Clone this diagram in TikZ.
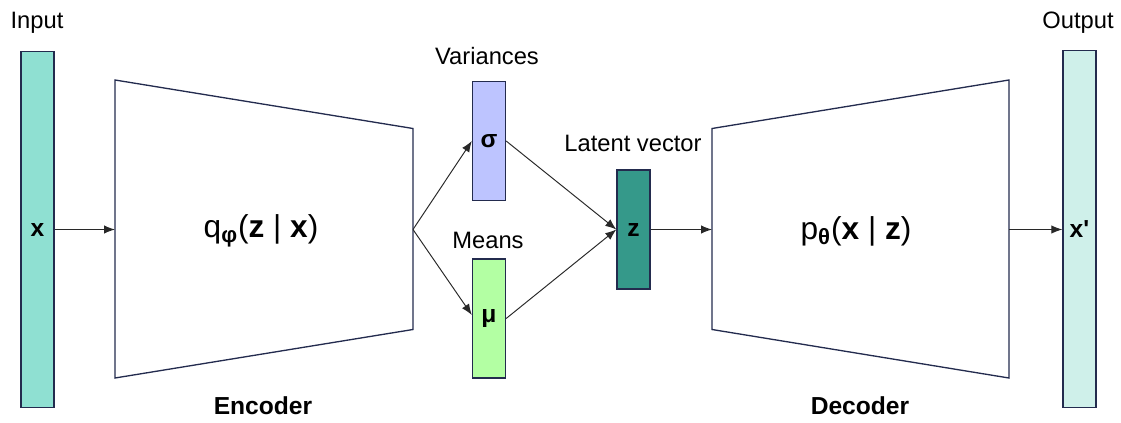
\documentclass[tikz,border=0pt]{standalone}
\usepackage{fontspec}
\setmainfont{Liberation Sans}
\usepackage{xcolor}
\usepackage{tikz}
\usetikzlibrary{arrows,arrows.meta}
\usetikzlibrary{calc,backgrounds}
\pgfdeclarelayer{edgelayer}
\pgfdeclarelayer{nodelayer}
\pgfsetlayers{background,edgelayer,nodelayer,main}
\definecolor{framecol}{RGB}{35,43,78}
\definecolor{edgecol}{RGB}{40,40,40}
\definecolor{incol}{RGB}{143,224,210}
\definecolor{outcol}{RGB}{207,240,234}
\definecolor{sigcol}{RGB}{189,196,255}
\definecolor{mucol}{RGB}{179,255,163}
\definecolor{zcol}{RGB}{53,153,138}
\tikzstyle{none}=[inner sep=0mm]
\tikzstyle{every picture}=[baseline=-0.25em]
\tikzstyle{diredge}=[-{Latex[length=2.2mm,width=1.7mm]},draw=edgecol,line width=0.55pt]
\tikzstyle{vec}=[shape=rectangle,draw=framecol,line width=0.75pt,inner sep=0pt,minimum width=0.66cm,font=\fontsize{14}{16}\selectfont\bfseries]
\tikzstyle{bar}=[vec,minimum height=7.13cm]
\tikzstyle{cell}=[vec,minimum height=2.38cm]
\tikzstyle{lbl}=[inner sep=0mm,font=\fontsize{13.5}{15}\selectfont]
\tikzstyle{part}=[inner sep=0mm,font=\fontsize{14}{16}\selectfont\bfseries]
\tikzstyle{net}=[draw=framecol,line width=0.75pt]
\tikzstyle{dist}=[inner sep=0mm,font=\fontsize{18}{20}\selectfont]

\begin{document}
\begin{tikzpicture}
	\useasboundingbox (0, 0) rectangle (22.42, 8.36);
	\begin{pgfonlayer}{nodelayer}
		\node [style=bar, fill=incol] (x) at (0.75, 3.77) {x};
		\node [style=bar, fill=outcol] (xr) at (21.59, 3.78) {x\textquotesingle};
		\node [style=cell, fill=sigcol] (sigma) at (9.78, 5.54) {σ};
		\node [style=cell, fill=mucol] (mu) at (9.78, 1.99) {μ};
		\node [style=cell, fill=zcol] (z) at (12.67, 3.77) {z};
		\node [style=lbl] (in lbl) at (0.74, 7.9) {Input};
		\node [style=lbl] (out lbl) at (21.56, 7.9) {Output};
		\node [style=lbl] (var lbl) at (9.74, 7.24) {Variances};
		\node [style=lbl] (mean lbl) at (9.76, 3.56) {Means};
		\node [style=lbl] (lat lbl) at (12.66, 5.5) {Latent vector};
		\node [style=part] (enc lbl) at (5.26, 0.24) {Encoder};
		\node [style=part] (dec lbl) at (17.2, 0.24) {Decoder};
		\node [style=dist] (q) at (5.22, 3.74) {q\textsubscript{\textbf{φ}}(\textbf{z} | \textbf{x})};
		\node [style=dist] (p) at (17.12, 3.74) {p\textsubscript{\textbf{θ}}(\textbf{x} | \textbf{z})};
	\end{pgfonlayer}
	\coordinate (enc bl) at (2.3, 0.8);
	\coordinate (enc tl) at (2.3, 6.76);
	\coordinate (enc tr) at (8.26, 5.79);
	\coordinate (enc br) at (8.26, 1.77);
	\coordinate (enc in) at (2.3, 3.77);
	\coordinate (enc out) at (8.26, 3.77);
	\coordinate (dec bl) at (14.24, 1.77);
	\coordinate (dec tl) at (14.24, 5.79);
	\coordinate (dec tr) at (20.18, 6.76);
	\coordinate (dec br) at (20.18, 0.8);
	\coordinate (dec in) at (14.24, 3.77);
	\coordinate (dec out) at (20.18, 3.77);
	\begin{pgfonlayer}{edgelayer}
		\draw [style=net] (enc bl) -- (enc tl) -- (enc tr) -- (enc br) -- cycle;
		\draw [style=net] (dec bl) -- (dec tl) -- (dec tr) -- (dec br) -- cycle;
		\draw [style=diredge] (x.east |- enc in) to (enc in);
		\draw [style=diredge] (enc out) to (sigma.west);
		\draw [style=diredge] (enc out) to ($(mu.west)+(0,0.07)$);
		\draw [style=diredge] (sigma.east) to (z.west);
		\draw [style=diredge] (mu.east) to (z.west);
		\draw [style=diredge] (z.east) to (dec in);
		\draw [style=diredge] (dec out) to (xr.west |- dec out);
	\end{pgfonlayer}
\end{tikzpicture}
\end{document}
